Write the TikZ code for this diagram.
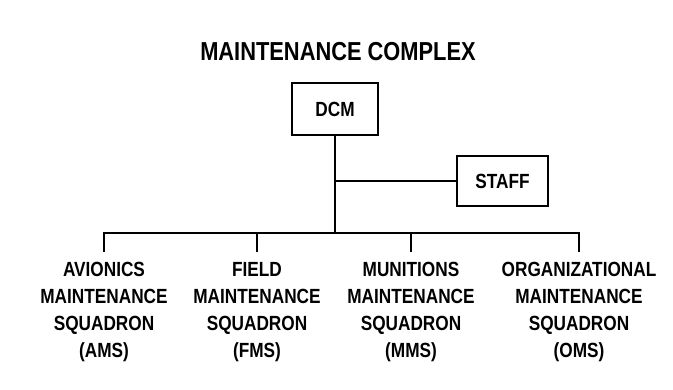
\documentclass[tikz,border=0pt]{standalone}
\usepackage{fontspec}
\setmainfont{Liberation Sans}[FakeStretch=0.84]
\usetikzlibrary{positioning}

\tikzset{
    orgbox/.style={draw, line width=2.8pt, inner sep=0pt, font=\fontsize{20.5}{24}\selectfont\bfseries},
    unit/.style={anchor=north, inner sep=0pt, align=center, font=\fontsize{20.5}{27}\selectfont\bfseries},
    link/.style={line width=2.8pt}
}

\begin{document}
\begin{tikzpicture}[x=1pt,y=1pt]
    \useasboundingbox (0,0) rectangle (673,390);

    % Title
    \node[anchor=base, inner sep=0pt, font=\fontsize{26}{30}\selectfont\bfseries] (title) at (338,329) {MAINTENANCE COMPLEX};

    % Boxes
    \node[orgbox, minimum width=86pt, minimum height=52pt] (dcm) at (335,281) {DCM};
    \node[orgbox, minimum width=91pt, minimum height=50pt] (staff) at (502.5,209) {STAFF};

    % Squadrons
    \node[unit] (ams) at (104,128) {AVIONICS\\MAINTENANCE\\SQUADRON\\(AMS)};
    \node[unit] (fms) at (257,128) {FIELD\\MAINTENANCE\\SQUADRON\\(FMS)};
    \node[unit] (mms) at (411,128) {MUNITIONS\\MAINTENANCE\\SQUADRON\\(MMS)};
    \node[unit] (oms) at (579,128) {ORGANIZATIONAL\\MAINTENANCE\\SQUADRON\\(OMS)};

    % Lines
    \coordinate (bus) at (0,157);
    \draw[link] (dcm.south) -- (dcm.south |- bus);
    \draw[link] (dcm.south |- staff.west) -- (staff.west);
    \draw[link] ([xshift=-1.4pt]ams.north |- bus) -- ([xshift=1.4pt]oms.north |- bus);
    \foreach \n in {ams,fms,mms,oms}
        \draw[link] (\n.north |- bus) -- ([yshift=10pt]\n.north);
\end{tikzpicture}
\end{document}
